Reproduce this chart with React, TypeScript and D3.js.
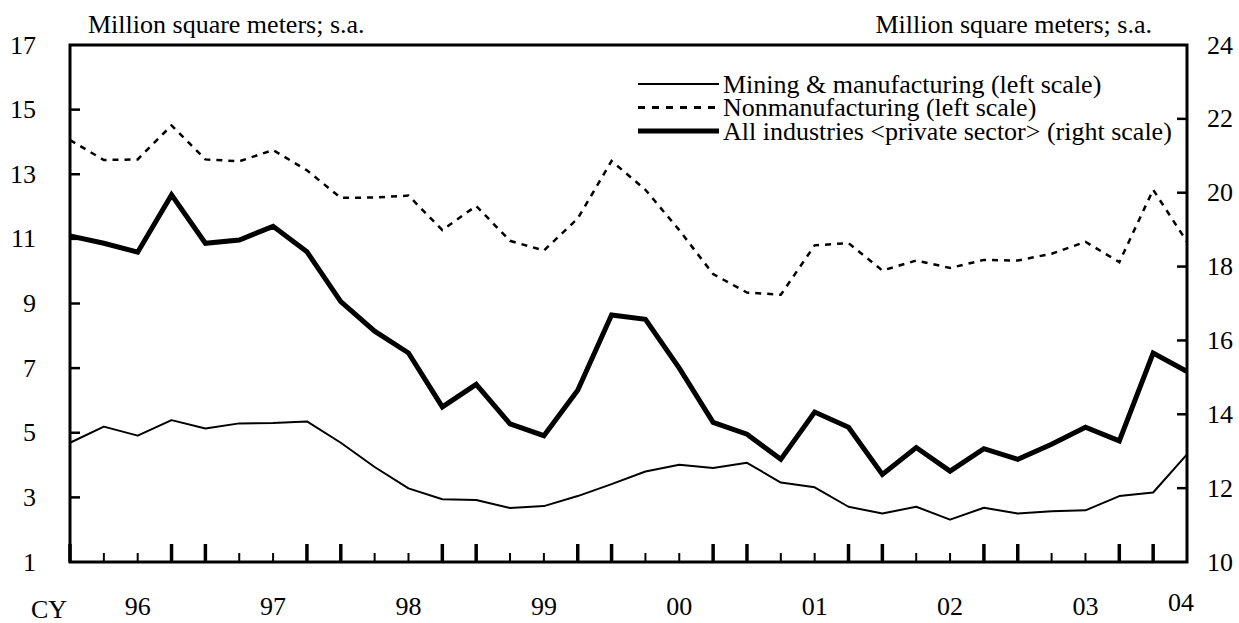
import React from 'react';
import * as d3 from 'd3';

// quarterly, 1996 Q1 .. 2004 Q2
const mining = [4.69, 5.19, 4.91, 5.39, 5.13, 5.29, 5.30, 5.35, 4.69, 3.94, 3.28, 2.94, 2.92, 2.67, 2.73, 3.04, 3.41,
  3.80, 4.01, 3.91, 4.07, 3.46, 3.31, 2.71, 2.50, 2.71, 2.31, 2.68, 2.50, 2.57, 2.60, 3.04, 3.15, 4.33];
const nonmfg = [14.06, 13.44, 13.46, 14.51, 13.46, 13.40, 13.75, 13.12, 12.27, 12.28, 12.34, 11.27, 12.02, 10.94, 10.64,
  11.63, 13.41, 12.52, 11.27, 9.91, 9.34, 9.27, 10.80, 10.87, 10.02, 10.33, 10.10, 10.35, 10.33, 10.54, 10.91, 10.28, 12.52, 10.91];
const allInd = [18.83, 18.63, 18.39, 19.94, 18.63, 18.72, 19.09, 18.40, 17.05, 16.25, 15.66, 14.20, 14.81, 13.74, 13.42,
  14.65, 16.69, 16.57, 15.25, 13.78, 13.46, 12.78, 14.06, 13.65, 12.37, 13.10, 12.46, 13.07, 12.78, 13.19, 13.65, 13.28, 15.66, 15.16];

const yearLabels = ['96', '97', '98', '99', '00', '01', '02', '03', '04'];
const leftTicks = [1, 3, 5, 7, 9, 11, 13, 15, 17];
const rightTicks = [10, 12, 14, 16, 18, 20, 22, 24];
const legendLabels = [
  'Mining & manufacturing (left scale)',
  'Nonmanufacturing (left scale)',
  'All industries <private sector> (right scale)',
];

const W = 1239, H = 623;
const left = 70, right = 1187, top = 45, bottom = 562;
const font = '"Liberation Serif", "Times New Roman", serif';
const fs = 26;

export default function App() {
  const n = mining.length;
  const x = d3.scaleLinear().domain([0, n - 1]).range([left, right]);
  const yL = d3.scaleLinear().domain([1, 17]).range([bottom, top]);
  const yR = d3.scaleLinear().domain([10, 24]).range([bottom, top]);

  const lineL = d3.line<number>().x((_, i) => x(i)).y(d => yL(d));
  const lineR = d3.line<number>().x((_, i) => x(i)).y(d => yR(d));

  return (
    <svg width={W} height={H} style={{ position: 'absolute', left: 0, top: 0, background: '#fff' }}
      fontFamily={font} fontSize={fs}>
      <rect width={W} height={H} fill="#fff" />

      {/* unit labels */}
      <text x={88} y={33}>Million square meters; s.a.</text>
      <text x={1152} y={33} textAnchor="end">Million square meters; s.a.</text>

      {/* series */}
      <path d={lineL(mining) || ''} fill="none" stroke="#000" strokeWidth={2} strokeLinejoin="round" />
      <path d={lineL(nonmfg) || ''} fill="none" stroke="#000" strokeWidth={2.5} strokeDasharray="6,6" />
      <path d={lineR(allInd) || ''} fill="none" stroke="#000" strokeWidth={5} />

      {/* frame */}
      <rect x={left} y={top} width={right - left} height={bottom - top} fill="none" stroke="#000" strokeWidth={3} />

      {/* left axis */}
      {leftTicks.map(t => (
        <g key={'l' + t}>
          {t > 1 && t < 17 && <line x1={left} x2={left + 10} y1={yL(t)} y2={yL(t)} stroke="#000" strokeWidth={2.5} />}
          <text x={36} y={yL(t)} textAnchor="end" dominantBaseline="central">{t}</text>
        </g>
      ))}

      {/* right axis */}
      {rightTicks.map(t => (
        <g key={'r' + t}>
          {t > 10 && t < 24 && <line x1={right - 10} x2={right} y1={yR(t)} y2={yR(t)} stroke="#000" strokeWidth={2.5} />}
          <text x={1207} y={yR(t)} dominantBaseline="central">{t}</text>
        </g>
      ))}

      {/* x ticks: long marks at the turn of each year */}
      {d3.range(n).map(i => {
        const big = i % 4 === 0 || i % 4 === 3;
        return <line key={'x' + i} x1={x(i)} x2={x(i)} y1={bottom} y2={bottom - (big ? 18 : 9)}
          stroke="#000" strokeWidth={big ? 3.5 : 2} />;
      })}
      {yearLabels.map((lab, k) => {
        const idx = Math.min(4 * k + 2, n - 1);
        const last = idx === n - 1;
        return <text key={lab} x={x(idx) - (last ? 6 : 0)} y={last ? 602 : 606} textAnchor="middle"
          dominantBaseline="central">{lab}</text>;
      })}
      <text x={49} y={609} textAnchor="middle" dominantBaseline="central">CY</text>

      {/* legend */}
      {legendLabels.map((lab, k) => {
        const ly = 84 + k * 23.5;
        return (
          <g key={lab}>
            <line x1={638} x2={719} y1={ly} y2={ly} stroke="#000" strokeWidth={k === 2 ? 5 : k === 1 ? 3 : 2}
              strokeDasharray={k === 1 ? '7,7' : undefined} />
            <text x={723} y={ly} dominantBaseline="central">{lab}</text>
          </g>
        );
      })}
    </svg>
  );
}
